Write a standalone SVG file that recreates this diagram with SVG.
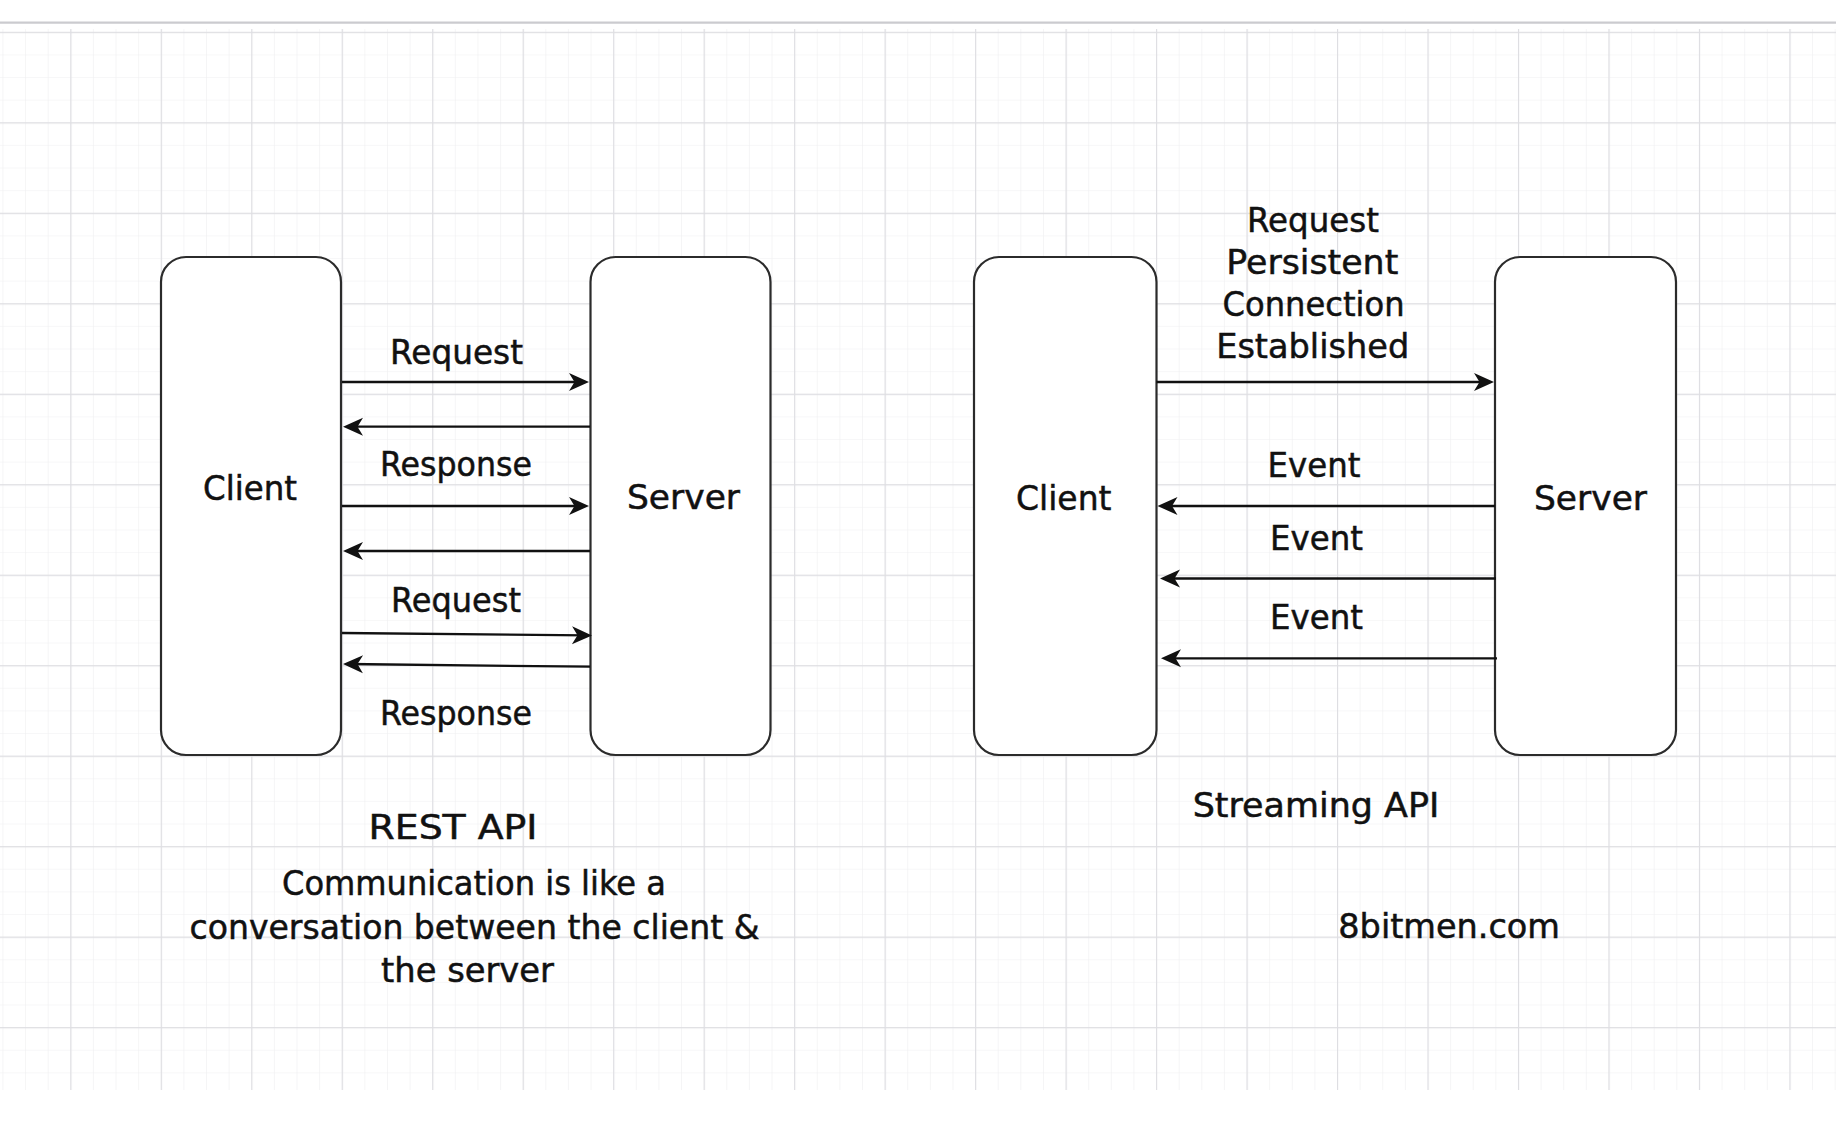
<svg xmlns="http://www.w3.org/2000/svg" width="1836" height="1148" viewBox="0 0 1836 1148">
<style>
.box{fill:#ffffff;stroke:#2b2b2b;stroke-width:2.2}
.lbl{font-family:"Comic Sans MS","DejaVu Sans",sans-serif;font-size:33px;fill:#111111;stroke:#111111;stroke-width:0.5}
.conn{stroke:#111111;stroke-width:2.3;fill:none;marker-end:url(#arr)}
</style>
<defs>
<marker id="arr" markerUnits="userSpaceOnUse" markerWidth="22" markerHeight="22" viewBox="0 0 22 22" refX="16" refY="11" orient="auto">
<path d="M1,2 L21,11 L1,20 L6.5,11 Z" fill="#111111"/>
</marker>
<pattern id="minor" patternUnits="userSpaceOnUse" x="70.3" y="122.3" width="22.62" height="22.62">
<path d="M0,0 H22.62 M0,0 V22.62" stroke="#efeff1" stroke-width="1.2" fill="none"/>
</pattern>
<pattern id="major" patternUnits="userSpaceOnUse" x="70.3" y="122.3" width="90.48" height="90.48">
<path d="M0,0.5 H90.48 M0.5,0 V90.48" stroke="#dedee2" stroke-width="1.3" fill="none"/>
</pattern>
</defs>
<rect x="0" y="0" width="1836" height="1148" fill="#ffffff"/>
<g id="grid">
<rect x="0" y="29" width="1836" height="1061" fill="url(#minor)"/>
<rect x="0" y="29" width="1836" height="1061" fill="url(#major)"/>
<line x1="0" y1="22.7" x2="1836" y2="22.7" stroke="#cbcbcf" stroke-width="2.2"/>
</g>
<g id="rest-client">
<rect class="box" x="161" y="257" width="180" height="498" rx="25" ry="25"/>
<text class="lbl" x="203" y="500" textLength="94" lengthAdjust="spacingAndGlyphs">Client</text>
</g>
<g id="rest-server">
<rect class="box" x="590.5" y="257" width="180" height="498" rx="25" ry="25"/>
<text class="lbl" x="627" y="509" textLength="113" lengthAdjust="spacingAndGlyphs">Server</text>
</g>
<g id="stream-client">
<rect class="box" x="974" y="257" width="182.5" height="498" rx="25" ry="25"/>
<text class="lbl" x="1016" y="510" textLength="95.5" lengthAdjust="spacingAndGlyphs">Client</text>
</g>
<g id="stream-server">
<rect class="box" x="1495" y="257" width="181" height="498" rx="25" ry="25"/>
<text class="lbl" x="1534" y="510" textLength="113" lengthAdjust="spacingAndGlyphs">Server</text>
</g>
<g id="connectors">
<line class="conn" x1="342" y1="382" x2="584" y2="382"/>
<line class="conn" x1="590" y1="426.7" x2="348" y2="426.7"/>
<line class="conn" x1="342" y1="506" x2="584" y2="506"/>
<line class="conn" x1="590" y1="551" x2="348" y2="551"/>
<line class="conn" x1="342" y1="633" x2="587" y2="635.4"/>
<line class="conn" x1="590" y1="666.7" x2="348" y2="664"/>
<line class="conn" x1="1156.5" y1="382" x2="1489" y2="382"/>
<line class="conn" x1="1495" y1="506" x2="1162.5" y2="506"/>
<line class="conn" x1="1496" y1="578.5" x2="1165" y2="578.5"/>
<line class="conn" x1="1497" y1="658.3" x2="1166" y2="658.3"/>
</g>
<g id="labels">
<text class="lbl" x="390" y="364" textLength="133" lengthAdjust="spacingAndGlyphs">Request</text>
<text class="lbl" x="380" y="476" textLength="152" lengthAdjust="spacingAndGlyphs">Response</text>
<text class="lbl" x="391" y="612" textLength="130" lengthAdjust="spacingAndGlyphs">Request</text>
<text class="lbl" x="380" y="725" textLength="152" lengthAdjust="spacingAndGlyphs">Response</text>
<text class="lbl" x="1247" y="231.5" textLength="132" lengthAdjust="spacingAndGlyphs">Request</text>
<text class="lbl" x="1226.3" y="273.5" textLength="172" lengthAdjust="spacingAndGlyphs">Persistent</text>
<text class="lbl" x="1222.6" y="316" textLength="182" lengthAdjust="spacingAndGlyphs">Connection</text>
<text class="lbl" x="1216.2" y="358" textLength="193" lengthAdjust="spacingAndGlyphs">Established</text>
<text class="lbl" x="1267.6" y="476.7" textLength="93" lengthAdjust="spacingAndGlyphs">Event</text>
<text class="lbl" x="1270" y="549.5" textLength="93" lengthAdjust="spacingAndGlyphs">Event</text>
<text class="lbl" x="1270" y="629.3" textLength="93" lengthAdjust="spacingAndGlyphs">Event</text>
</g>
<g id="captions">
<text class="lbl" x="368.5" y="839" textLength="169" lengthAdjust="spacingAndGlyphs">REST API</text>
<text class="lbl" x="282" y="895" textLength="384" lengthAdjust="spacingAndGlyphs">Communication is like a</text>
<text class="lbl" x="189.5" y="939" textLength="570" lengthAdjust="spacingAndGlyphs">conversation between the client &amp;</text>
<text class="lbl" x="381" y="982" textLength="173" lengthAdjust="spacingAndGlyphs">the server</text>
<text class="lbl" x="1192.7" y="817.3" textLength="246.6" lengthAdjust="spacingAndGlyphs">Streaming API</text>
<text class="lbl" x="1338.3" y="938.3" textLength="221.7" lengthAdjust="spacingAndGlyphs">8bitmen.com</text>
</g>
</svg>
